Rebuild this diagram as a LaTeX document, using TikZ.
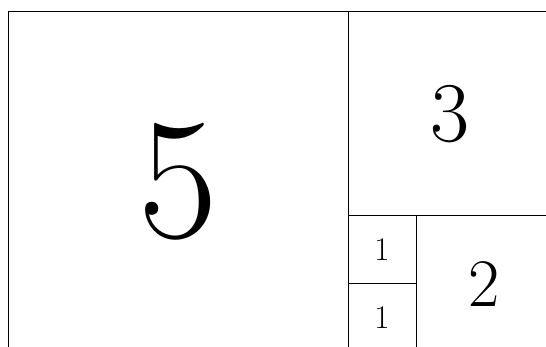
\documentclass[tikz,border=0pt]{standalone}
\usepackage{fontspec}
\setmainfont{Latin Modern Roman}
\begin{document}
\begin{tikzpicture}[x=1pt,y=-1pt,
  sq/.style={draw, line width=1pt, rectangle, inner sep=0pt, anchor=center},
  fz/.style={font=\fontsize{#1}{#1}\selectfont}]
\useasboundingbox (0,0) rectangle (546,347);
\clip (0,0) rectangle (546,347);
\node[sq, minimum width=340pt, minimum height=340pt, fz=173] (s5) at (178,182) {5};
\node[sq, minimum width=204pt, minimum height=204pt, fz=85] (s3) at (450,114) {3};
\node[sq, minimum width=136pt, minimum height=136pt, fz=68] (s2) at (484,284) {2};
\node[sq, minimum width=68pt, minimum height=68pt, fz=33] (s1a) at (382,250) {1};
\node[sq, minimum width=68pt, minimum height=68pt, fz=33] (s1b) at (382,318) {1};
\end{tikzpicture}
\end{document}
